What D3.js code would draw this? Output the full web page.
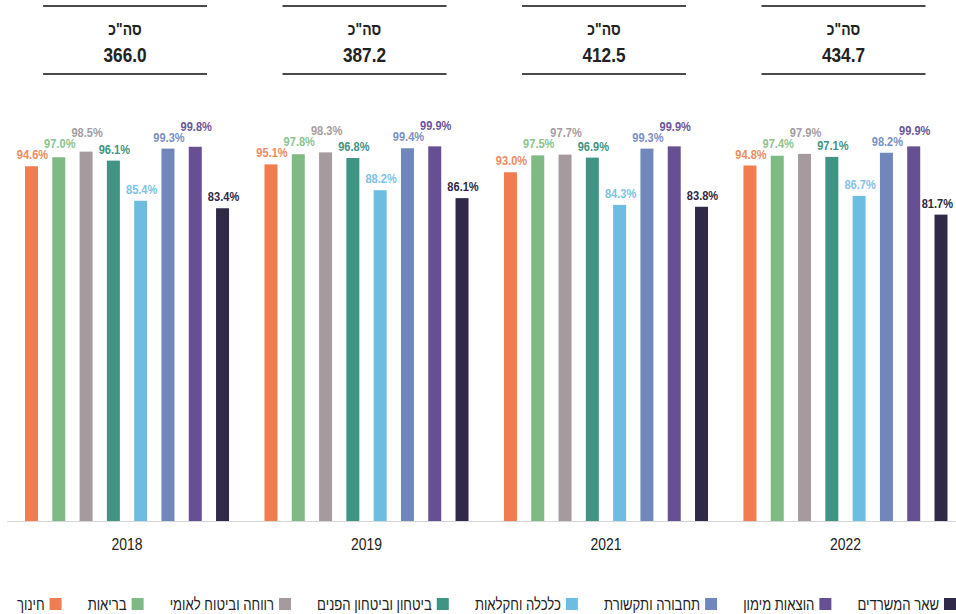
<!DOCTYPE html>
<html>
<head>
<meta charset="utf-8">
<script src="https://cdn.jsdelivr.net/npm/d3@7"></script>
<style>
  html, body { margin: 0; padding: 0; background: #fff; }
  svg { display: block; }
  text { font-family: "Liberation Sans", Arial, "DejaVu Sans", sans-serif; }
</style>
</head>
<body>
<svg id="chart" width="956" height="614"></svg>
<script>
const years = ["2018", "2019", "2021", "2022"];
const totals = ["366.0", "387.2", "412.5", "434.7"];
const categories = ["חינוך", "בריאות", "רווחה וביטוח לאומי", "ביטחון וביטחון הפנים", "כלכלה וחקלאות", "תחבורה ותקשורת", "הוצאות מימון", "שאר המשרדים"];
const colors = ["#EF7D4F", "#7FBA84", "#A59A9E", "#3F9484", "#6DBDE2", "#6F87BA", "#674F93", "#302A48"];
const labelColors = ["#EE8B5E", "#8CC38E", "#A59DA1", "#3F9484", "#7CC3E6", "#7A90C4", "#6B559B", "#2D2A44"];
const values = {
  "2018": [94.6, 97.0, 98.5, 96.1, 85.4, 99.3, 99.8, 83.4],
  "2019": [95.1, 97.8, 98.3, 96.8, 88.2, 99.4, 99.9, 86.1],
  "2021": [93.0, 97.5, 97.7, 96.9, 84.3, 99.3, 99.9, 83.8],
  "2022": [94.8, 97.4, 97.9, 97.1, 86.7, 98.2, 99.9, 81.7]
};
const totalLabel = "סה\"כ";

const SX = 0.82; // horizontal condensing (narrow face)
const svg = d3.select("#chart");
const W = 956, H = 614;
svg.append("rect").attr("width", W).attr("height", H).attr("fill", "#fff");

function ntext(parent, x, yy, str, opts) {
  const t = parent.append("text")
    .attr("transform", `translate(${x},${yy}) scale(${SX},1)`)
    .attr("text-anchor", opts.anchor || "middle")
    .attr("font-size", opts.size)
    .attr("font-weight", opts.weight || "normal")
    .attr("fill", opts.fill || "#222")
    .text(str);
  return t;
}

const x0 = d3.scaleBand().domain(years).range([25, 947.5]).paddingInner(0.148).paddingOuter(0);
const x1 = d3.scaleBand().domain(categories).range([0, x0.bandwidth()]).paddingInner(0.524).paddingOuter(0);
const y = d3.scaleLinear().domain([0, 100]).range([521, 146]);

// baseline
svg.append("line").attr("x1", 7).attr("x2", W).attr("y1", y(0) + 0.5).attr("y2", y(0) + 0.5)
  .attr("stroke", "#d6d6d6").attr("stroke-width", 1.2);

// header totals
years.forEach((yr, gi) => {
  const cx = x0(yr) + x0.bandwidth() / 2 - 2;
  const g = svg.append("g");
  g.append("line").attr("x1", cx - 82).attr("x2", cx + 82).attr("y1", 6).attr("y2", 6).attr("stroke", "#4a4a4a").attr("stroke-width", 1.8);
  g.append("line").attr("x1", cx - 82).attr("x2", cx + 82).attr("y1", 74).attr("y2", 74).attr("stroke", "#4a4a4a").attr("stroke-width", 1.8);
  ntext(g, cx, 35, totalLabel, { size: 17, weight: "bold" });
  ntext(g, cx, 61.5, totals[gi], { size: 21, weight: "bold" });
});

// bars
const groups = svg.selectAll("g.year").data(years).join("g").attr("class", "year")
  .attr("transform", d => `translate(${x0(d)},0)`);

groups.selectAll("rect").data(yr => values[yr].map((v, i) => ({ v, i, cat: categories[i] })))
  .join("rect")
  .attr("x", d => x1(d.cat)).attr("width", x1.bandwidth())
  .attr("y", d => y(d.v)).attr("height", d => y(0) - y(d.v))
  .attr("fill", d => colors[d.i]);

// value labels with simple stacking to avoid overlap
groups.each(function (yr) {
  const g = d3.select(this);
  const gx = x0(yr);
  let prevY = null;
  values[yr].forEach((v, i) => {
    let ly = y(v) - 7;
    if (prevY !== null && Math.abs(ly - prevY) < 11) ly = prevY - 11;
    prevY = ly;
    const cx = x1(categories[i]) + x1.bandwidth() / 2 + 1;
    const t = ntext(g, cx, ly, v.toFixed(1) + "%", { size: 13.5, weight: "bold", fill: labelColors[i] });
    const half = t.node().getComputedTextLength() * SX / 2;
    const maxCx = W - 3 - gx - half;
    if (cx > maxCx) t.attr("transform", `translate(${maxCx},${ly}) scale(${SX},1)`);
  });
});

// x axis year labels
const xAxis = d3.axisBottom(x0).tickSize(0).tickPadding(0);
const ax = svg.append("g").attr("transform", `translate(0,${y(0)})`).call(xAxis);
ax.select(".domain").remove();
ax.attr("font-family", null);
ax.selectAll(".tick text")
  .attr("font-size", 17).attr("fill", "#222")
  .attr("dy", null).attr("y", 0)
  .attr("transform", `translate(0,29) scale(${SX},1)`);

// legend
const legend = svg.append("g");
const items = categories.map((c, i) => {
  const t = ntext(legend, 0, 610, c, { size: 16, anchor: "end" });
  return { t, w: t.node().getComputedTextLength() * SX, i };
});
const sq = 12, gapIn = 5, left = 17, right = W;
const itemW = items.map(d => d.w + gapIn + sq);
const gap = (right - left - d3.sum(itemW)) / (items.length - 1);
let cursor = left;
items.forEach((d, k) => {
  d.t.attr("transform", `translate(${cursor + d.w},610) scale(${SX},1)`);
  legend.append("rect").attr("x", cursor + d.w + gapIn).attr("y", 598).attr("width", sq).attr("height", sq)
    .attr("fill", colors[d.i]);
  cursor += itemW[k] + gap;
});
</script>
</body>
</html>
